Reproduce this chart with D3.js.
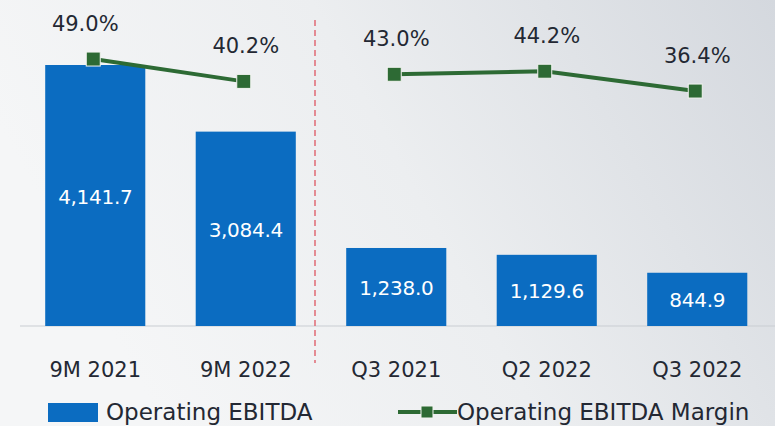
<!DOCTYPE html>
<html>
<head>
<meta charset="utf-8">
<script src="https://cdn.jsdelivr.net/npm/d3@7"></script>
<style>
  body { margin: 0; background: #eef0f2; }
  svg { display: block; font-family: 'DejaVu Sans', sans-serif; }
</style>
</head>
<body>
<div id="chart"></div>
<script>
// Operating EBITDA chart

const periods = ['9M 2021', '9M 2022', 'Q3 2021', 'Q2 2022', 'Q3 2022']
const ebitda = [4141.7, 3084.4, 1238.0, 1129.6, 844.9]
const margin = [49.0, 40.2, 43.0, 44.2, 36.4]
const ebitdaLabels = ['4,141.7', '3,084.4', '1,238.0', '1,129.6', '844.9']
const groups = [[0, 1], [2, 3, 4]]

const width = 775
const height = 426
const baseline = 326
const textColor = '#232833'

const svg = d3.select('#chart')
  .append('svg')
  .attr('width', width)
  .attr('height', height)

// Background gradient
const grad = svg.append('defs').append('linearGradient')
  .attr('id', 'bg')
  .attr('x1', '0%').attr('y1', '30%')
  .attr('x2', '100%').attr('y2', '0%')
grad.append('stop').attr('offset', '0%').attr('stop-color', '#f5f6f7')
grad.append('stop').attr('offset', '45%').attr('stop-color', '#eceef0')
grad.append('stop').attr('offset', '100%').attr('stop-color', '#d4d8de')

svg.append('rect')
  .attr('width', width)
  .attr('height', height)
  .attr('fill', 'url(#bg)')

// Scales
const x = d3.scaleBand()
  .domain(periods)
  .range([20, 772.5])
  .paddingInner(0.335)
  .paddingOuter(0.1675)

const y = d3.scaleLinear()
  .domain([0, 4141.7])
  .range([baseline, 65])

const yM = d3.scaleLinear()
  .domain([30, 50])
  .range([107.3, 56.5])

// Baseline
svg.append('line')
  .attr('x1', 20).attr('x2', width)
  .attr('y1', baseline).attr('y2', baseline)
  .attr('stroke', '#c9cdd2')
  .attr('stroke-width', 1)

// Bars
svg.append('g').selectAll('rect')
  .data(ebitda)
  .enter().append('rect')
  .attr('x', (d, i) => x(periods[i]))
  .attr('y', d => y(d))
  .attr('width', x.bandwidth())
  .attr('height', d => baseline - y(d))
  .attr('fill', '#0b6cc1')

// Bar labels
svg.append('g').selectAll('text')
  .data(ebitda)
  .enter().append('text')
  .text((d, i) => ebitdaLabels[i])
  .attr('x', (d, i) => x(periods[i]) + x.bandwidth() / 2)
  .attr('y', d => (y(d) + baseline) / 2 + 8)
  .attr('text-anchor', 'middle')
  .attr('fill', '#fff')
  .attr('font-size', 20)
  .attr('letter-spacing', -0.3)

// Category axis labels
svg.append('g').selectAll('text')
  .data(periods)
  .enter().append('text')
  .text(d => d)
  .attr('x', d => x(d) + x.bandwidth() / 2)
  .attr('y', 377)
  .attr('text-anchor', 'middle')
  .attr('fill', textColor)
  .attr('font-size', 21)

// Divider
svg.append('line')
  .attr('x1', 315).attr('x2', 315)
  .attr('y1', 20).attr('y2', 363)
  .attr('stroke', '#e06a74')
  .attr('stroke-width', 1.5)
  .attr('stroke-dasharray', '6,4')

// Margin lines (two separate segments)
const line = d3.line()
  .x(i => x(periods[i]) + x.bandwidth() / 2 - 2)
  .y(i => yM(margin[i]))

svg.append('g').selectAll('path')
  .data(groups)
  .enter().append('path')
  .attr('d', line)
  .attr('fill', 'none')
  .attr('stroke', '#2d6a34')
  .attr('stroke-width', 4)

svg.append('g').selectAll('rect')
  .data(margin)
  .enter().append('rect')
  .attr('x', (d, i) => x(periods[i]) + x.bandwidth() / 2 - 2 - 7)
  .attr('y', d => yM(d) - 7)
  .attr('width', 14)
  .attr('height', 14)
  .attr('fill', '#2d6a34')
  .attr('stroke', '#f2f4f0')
  .attr('stroke-width', 1)

svg.append('g').selectAll('text')
  .data(margin)
  .enter().append('text')
  .text(d => d.toFixed(1) + '%')
  .attr('x', (d, i) => x(periods[i]) + x.bandwidth() / 2 - (i === 0 ? 10 : 0))
  .attr('y', d => yM(d) - 28)
  .attr('text-anchor', 'middle')
  .attr('fill', textColor)
  .attr('font-size', 21)

// Legend
const legend = svg.append('g')
legend.append('rect')
  .attr('x', 48).attr('y', 403)
  .attr('width', 50).attr('height', 19)
  .attr('fill', '#0b6cc1')
legend.append('text')
  .text('Operating EBITDA')
  .attr('x', 106).attr('y', 420)
  .attr('fill', textColor)
  .attr('font-size', 23)

legend.append('line')
  .attr('x1', 398).attr('x2', 457)
  .attr('y1', 412).attr('y2', 412)
  .attr('stroke', '#2d6a34')
  .attr('stroke-width', 4)
legend.append('rect')
  .attr('x', 421).attr('y', 406)
  .attr('width', 12).attr('height', 12)
  .attr('fill', '#2d6a34')
  .attr('stroke', '#f2f4f0')
legend.append('text')
  .text('Operating EBITDA Margin')
  .attr('x', 457).attr('y', 420)
  .attr('fill', textColor)
  .attr('font-size', 23)
</script>
</body>
</html>
